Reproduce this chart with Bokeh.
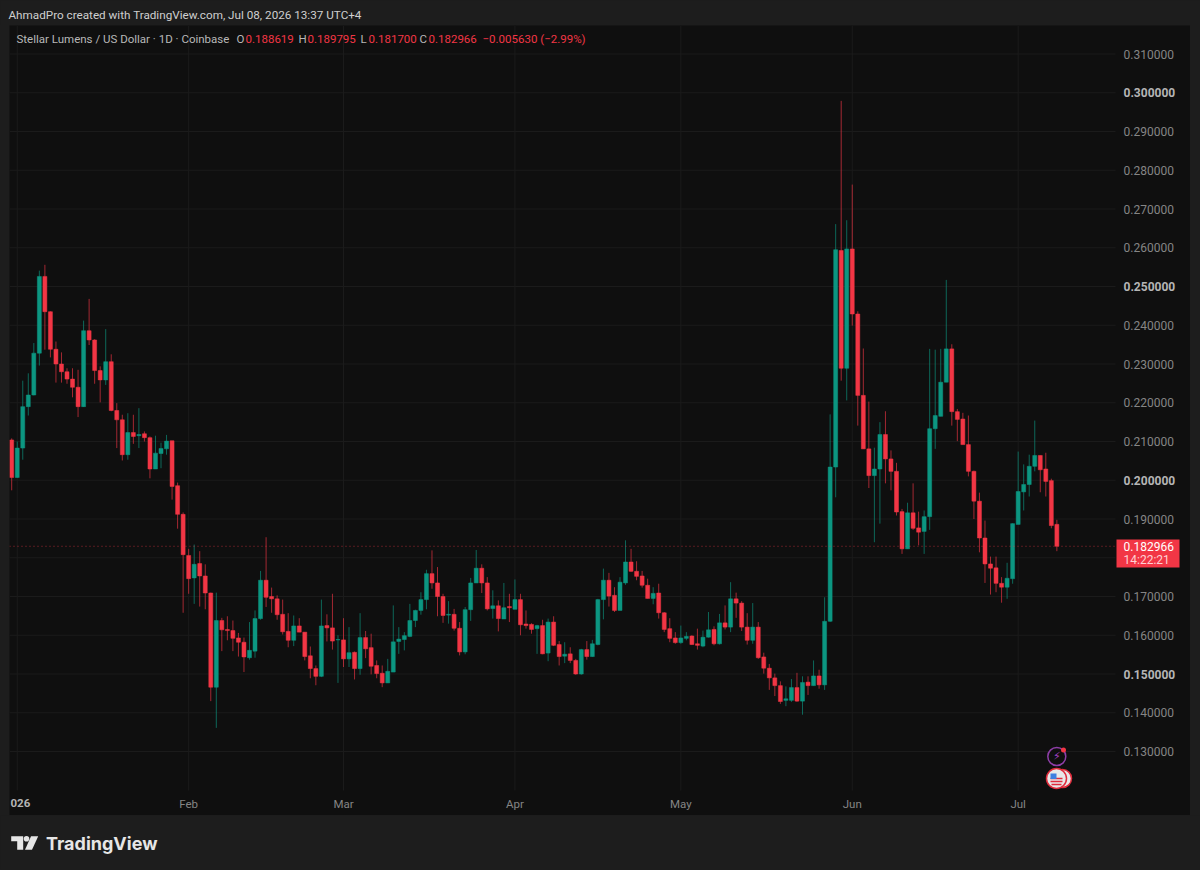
from bokeh.plotting import figure
from bokeh.layouts import column
from bokeh.models import Range1d, FixedTicker, NumeralTickFormatter, Label, ColumnDataSource
from bokeh.embed import file_html
from bokeh.resources import INLINE

opens = [0.2104,0.2007,0.2083,0.2190,0.2220,0.2328,0.2526,0.2435,0.2338,0.2300,
0.2280,0.2261,0.2240,0.2190,0.2386,0.2362,0.2283,0.2259,0.2306,0.2180,
0.2156,0.2066,0.2123,0.2115,0.2120,0.2110,0.2029,0.2069,0.2081,0.2102,
0.1986,0.1912,0.1806,0.1748,0.1785,0.1753,0.1709,0.1466,0.1638,0.1615,
0.1612,0.1593,0.1582,0.1542,0.1559,0.1643,0.1742,0.1700,0.1694,0.1654,
0.1610,0.1587,0.1624,0.1608,0.1547,0.1514,0.1494,0.1625,0.1619,0.1588,
0.1588,0.1539,0.1556,0.1514,0.1594,0.1568,0.1522,0.1502,0.1477,0.1505,
0.1584,0.1589,0.1597,0.1638,0.1664,0.1692,0.1759,0.1735,0.1700,0.1652,
0.1654,0.1618,0.1557,0.1666,0.1735,0.1773,0.1735,0.1669,0.1676,0.1642,
0.1674,0.1667,0.1692,0.1629,0.1628,0.1617,0.1625,0.1554,0.1634,0.1576,
0.1546,0.1552,0.1535,0.1500,0.1563,0.1545,0.1576,0.1692,0.1742,0.1703,
0.1664,0.1735,0.1789,0.1765,0.1753,0.1729,0.1695,0.1709,0.1658,0.1617,
0.1593,0.1581,0.1592,0.1598,0.1578,0.1572,0.1595,0.1615,0.1578,0.1632,
0.1621,0.1694,0.1683,0.1621,0.1587,0.1621,0.1544,0.1515,0.1490,0.1470,
0.1432,0.1432,0.1465,0.1430,0.1479,0.1470,0.1495,0.1472,0.1636,0.2034,
0.2593,0.2289,0.2597,0.2429,0.2219,0.2081,0.2012,0.2029,0.2118,0.2055,
0.2023,0.1919,0.1823,0.1916,0.1877,0.1868,0.1906,0.2133,0.2165,0.2253,
0.2339,0.2177,0.2158,0.2092,0.2023,0.1946,0.1851,0.1784,0.1774,0.1734,
0.1724,0.1746,0.1886,0.1970,0.1989,0.2036,0.2064,0.2029,0.1999,0.188619]

closes = [0.2007,0.2083,0.2190,0.2220,0.2328,0.2526,0.2435,0.2338,0.2300,0.2280,
0.2261,0.2240,0.2190,0.2386,0.2362,0.2283,0.2259,0.2306,0.2180,0.2156,
0.2066,0.2123,0.2113,0.2118,0.2110,0.2029,0.2070,0.2082,0.2101,0.1984,
0.1912,0.1808,0.1746,0.1783,0.1753,0.1709,0.1466,0.1638,0.1614,0.1612,
0.1592,0.1582,0.1544,0.1561,0.1643,0.1742,0.1698,0.1694,0.1653,0.1609,
0.1587,0.1624,0.1608,0.1545,0.1514,0.1494,0.1624,0.1619,0.1585,0.1589,
0.1539,0.1555,0.1514,0.1594,0.1565,0.1520,0.1501,0.1477,0.1507,0.1583,
0.1590,0.1599,0.1638,0.1664,0.1692,0.1759,0.1735,0.1700,0.1651,0.1654,
0.1618,0.1557,0.1666,0.1735,0.1773,0.1735,0.1668,0.1676,0.1643,0.1671,
0.1671,0.1692,0.1627,0.1625,0.1615,0.1625,0.1552,0.1634,0.1574,0.1545,
0.1551,0.1535,0.1500,0.1563,0.1545,0.1578,0.1692,0.1742,0.1701,0.1664,
0.1737,0.1789,0.1765,0.1752,0.1729,0.1695,0.1708,0.1658,0.1615,0.1592,
0.1581,0.1593,0.1597,0.1576,0.1574,0.1595,0.1614,0.1578,0.1632,0.1621,
0.1694,0.1683,0.1621,0.1587,0.1621,0.1542,0.1515,0.1490,0.1470,0.1429,
0.1436,0.1465,0.1430,0.1478,0.1470,0.1495,0.1472,0.1636,0.2034,0.2595,
0.2289,0.2597,0.2429,0.2219,0.2081,0.2012,0.2029,0.2118,0.2055,0.2023,
0.1918,0.1823,0.1916,0.1876,0.1866,0.1906,0.2133,0.2167,0.2253,0.2339,
0.2177,0.2157,0.2092,0.2023,0.1946,0.1851,0.1784,0.1773,0.1734,0.1724,
0.1747,0.1888,0.1971,0.1989,0.2036,0.2064,0.2027,0.1997,0.1883,0.182966]

highs = [0.2108,0.2100,0.2257,0.2276,0.2354,0.2541,0.2556,0.2436,0.2358,0.2330,
0.2289,0.2289,0.2285,0.2412,0.2468,0.2364,0.2294,0.2390,0.2325,0.2199,
0.2169,0.2173,0.2169,0.2186,0.2126,0.2113,0.2115,0.2097,0.2117,0.2102,
0.1994,0.1917,0.1823,0.1834,0.1817,0.1783,0.1710,0.1710,0.1645,0.1649,
0.1638,0.1606,0.1594,0.1634,0.1664,0.1766,0.1853,0.1723,0.1703,0.1692,
0.1657,0.1651,0.1644,0.1608,0.1571,0.1522,0.1692,0.1654,0.1707,0.1600,
0.1644,0.1621,0.1558,0.1657,0.1611,0.1604,0.1535,0.1522,0.1539,0.1677,
0.1621,0.1608,0.1681,0.1666,0.1711,0.1769,0.1819,0.1776,0.1707,0.1688,
0.1668,0.1634,0.1673,0.1748,0.1820,0.1783,0.1750,0.1716,0.1690,0.1735,
0.1707,0.1744,0.1707,0.1664,0.1631,0.1627,0.1640,0.1643,0.1649,0.1585,
0.1582,0.1569,0.1539,0.1565,0.1585,0.1588,0.1694,0.1772,0.1761,0.1724,
0.1750,0.1845,0.1823,0.1791,0.1766,0.1746,0.1724,0.1733,0.1660,0.1644,
0.1608,0.1625,0.1608,0.1600,0.1617,0.1612,0.1660,0.1623,0.1655,0.1677,
0.1737,0.1710,0.1688,0.1657,0.1683,0.1634,0.1555,0.1526,0.1501,0.1481,
0.1468,0.1487,0.1503,0.1494,0.1494,0.1535,0.1511,0.1698,0.2170,0.2661,
0.2979,0.2671,0.2763,0.2436,0.2340,0.2203,0.2084,0.2150,0.2178,0.2077,
0.2045,0.1926,0.1942,0.1992,0.1919,0.1922,0.2339,0.2337,0.2339,0.2517,
0.2351,0.2184,0.2174,0.2167,0.2025,0.1968,0.1896,0.1803,0.1803,0.1750,
0.1787,0.1889,0.2074,0.2041,0.2066,0.2154,0.2064,0.2071,0.2004,0.189795]

lows = [0.1974,0.2006,0.2053,0.2167,0.2219,0.2296,0.2337,0.2317,0.2252,0.2252,
0.2249,0.2214,0.2163,0.2189,0.2349,0.2249,0.2201,0.2246,0.2178,0.2083,
0.2051,0.2053,0.2094,0.2083,0.2100,0.2005,0.2029,0.2031,0.2066,0.1950,
0.1875,0.1658,0.1707,0.1681,0.1674,0.1667,0.1430,0.1361,0.1559,0.1587,
0.1559,0.1545,0.1505,0.1537,0.1542,0.1640,0.1673,0.1658,0.1640,0.1602,
0.1569,0.1572,0.1608,0.1535,0.1489,0.1471,0.1492,0.1584,0.1563,0.1477,
0.1518,0.1518,0.1486,0.1498,0.1541,0.1499,0.1489,0.1466,0.1477,0.1505,
0.1552,0.1561,0.1595,0.1621,0.1653,0.1667,0.1720,0.1649,0.1632,0.1630,
0.1612,0.1548,0.1551,0.1637,0.1735,0.1709,0.1664,0.1643,0.1610,0.1642,
0.1634,0.1667,0.1600,0.1617,0.1604,0.1552,0.1551,0.1533,0.1572,0.1522,
0.1528,0.1528,0.1498,0.1498,0.1537,0.1544,0.1574,0.1641,0.1674,0.1660,
0.1664,0.1730,0.1763,0.1742,0.1723,0.1695,0.1680,0.1643,0.1608,0.1582,
0.1578,0.1578,0.1587,0.1575,0.1563,0.1569,0.1594,0.1574,0.1576,0.1615,
0.1608,0.1645,0.1611,0.1576,0.1578,0.1539,0.1501,0.1459,0.1443,0.1423,
0.1417,0.1428,0.1428,0.1395,0.1446,0.1470,0.1462,0.1459,0.1634,0.1956,
0.2257,0.2206,0.2399,0.2141,0.2081,0.1980,0.1840,0.1888,0.1992,0.1974,
0.1909,0.1810,0.1823,0.1872,0.1832,0.1810,0.1872,0.2081,0.2165,0.2253,
0.2141,0.2101,0.2092,0.2010,0.1900,0.1814,0.1735,0.1705,0.1711,0.1684,
0.1694,0.1733,0.1886,0.1922,0.1958,0.2023,0.1969,0.1958,0.1876,0.181700]

dates_idx = list(range(len(opens)))
month_labels = ["Feb", "Mar", "Apr", "May", "Jun", "Jul"]
month_idx = [32, 60, 91, 121, 152, 182]
year_idx = 1
year_label = "026"
price_ticks = [0.13,0.14,0.15,0.16,0.17,0.18,0.19,0.20,0.21,0.22,0.23,0.24,0.25,0.26,0.27,0.28,0.29,0.30,0.31]
bold_ticks = [0.15,0.20,0.25,0.30]
last_price = 0.182966

BG = "#1d1d1d"; PANE = "#0f0f0f"; GRID = "#1b1b1b"; AX = "#858585"
RED = "#f23645"; GREEN = "#0c9681"
FONT = "Roboto"

def X(px): return (px - 11.2) / 5.53
def Y(py): return 0.13 + (751 - py) / 3875.0

# top strip
head = figure(width=1200, height=25, x_range=Range1d(0, 1200), y_range=Range1d(25, 0),
              output_backend="svg", toolbar_location=None, min_border=0, x_axis_type=None, y_axis_type=None,
              background_fill_color=BG, border_fill_color=BG, outline_line_color=None)
head.grid.visible = False
head.add_layout(Label(x=8, y=14, text="AhmadPro created with TradingView.com, Jul 08, 2026 13:37 UTC+4",
                      text_color="#cfcfcf", text_font=FONT, text_font_size="11.7px", text_baseline="middle"))

# chart: the frame is the whole pane, both axes sit at fixed places inside it
p = figure(width=1181, height=790, margin=(0, 0, 0, 9),
           x_range=Range1d(X(9), X(1190)), y_range=Range1d(Y(815), Y(25)),
           y_axis_location="right", output_backend="svg", toolbar_location=None,
           background_fill_color=PANE, border_fill_color=PANE, outline_line_color=None,
           min_border_left=0, min_border_top=0, min_border_right=0, min_border_bottom=0)
p.grid.visible = False

for ax in (p.xaxis[0], p.yaxis[0]):
    ax.axis_line_color = None
    ax.major_tick_line_color = None
    ax.minor_tick_line_color = None
    ax.major_tick_out = 0
    ax.major_tick_in = 0
    ax.minor_tick_out = 0
    ax.major_label_text_color = AX
    ax.major_label_text_font = FONT
p.yaxis[0].fixed_location = X(1115)
p.xaxis[0].fixed_location = Y(790)
p.yaxis[0].major_label_text_font_size = "12px"
p.xaxis[0].major_label_text_font_size = "11.5px"
p.yaxis[0].major_label_standoff = 8
p.xaxis[0].major_label_standoff = 6
p.yaxis[0].ticker = FixedTicker(ticks=[t for t in price_ticks if t not in bold_ticks and t != 0.18])
p.yaxis[0].formatter = NumeralTickFormatter(format="0.000000")
p.xaxis[0].ticker = FixedTicker(ticks=month_idx)
p.xaxis[0].major_label_overrides = dict(zip(month_idx, month_labels))

# grid lines that stop at the edge of the price scale and of the time scale
n_h = len(price_ticks)
p.segment([X(9)] * n_h, price_ticks, [X(1115)] * n_h, price_ticks, line_color=GRID, line_width=1, level="underlay")
v_lines = [year_idx] + month_idx
n_v = len(v_lines)
p.segment(v_lines, [Y(25)] * n_v, v_lines, [Y(790)] * n_v, line_color=GRID, line_width=1, level="underlay")

colors = [GREEN if c >= o else RED for o, c in zip(opens, closes)]
src = ColumnDataSource(dict(x=dates_idx, o=opens, c=closes, h=highs, l=lows, color=colors))
p.segment("x", "h", "x", "l", source=src, line_color="color", line_width=1, line_alpha=0.65)
p.vbar("x", top="o", bottom="c", width=0.72, source=src, fill_color="color", line_color="color", line_width=0.5)

p.segment([X(9)], [last_price], [X(1116)], [last_price], line_color=RED, line_alpha=0.65, line_dash="1 3", line_width=1)

# legend line
legend_parts = [(16, "Stellar Lumens / US Dollar · 1D · Coinbase", "#b8b8b8"),
                (236, "O", "#b8b8b8"), (245, "0.188619", RED),
                (298, "H", "#b8b8b8"), (307, "0.189795", RED),
                (360, "L", "#b8b8b8"), (368, "0.181700", RED),
                (419, "C", "#b8b8b8"), (428, "0.182966", RED),
                (482, "−0.005630 (−2.99%)", RED)]
for px, txt, col in legend_parts:
    p.add_layout(Label(x=X(px), y=Y(38.5), text=txt, text_color=col, text_font=FONT,
                       text_font_size="11.5px", text_baseline="middle"))

# bold price ticks
for t in bold_ticks:
    p.add_layout(Label(x=X(1123), y=t, text=f"{t:.6f}", text_color="#b5b5b5", text_font=FONT,
                       text_font_style="bold", text_font_size="12px", text_baseline="middle"))
# clipped year
p.add_layout(Label(x=X(10), y=Y(802), text=year_label, text_color="#b5b5b5", text_font=FONT,
                   text_font_style="bold", text_font_size="11.5px", text_baseline="middle"))

# last price tag
p.quad(left=[X(1116)], right=[X(1179)], top=[Y(539)], bottom=[Y(567)], fill_color=RED, line_color=None)
p.add_layout(Label(x=X(1123), y=Y(546), text="0.182966", text_color="#ffffff",
                   text_font=FONT, text_font_size="12px", text_baseline="middle"))
p.add_layout(Label(x=X(1123), y=Y(559), text="14:22:21", text_color="#ffd0d4",
                   text_font=FONT, text_font_size="12px", text_baseline="middle"))

# event icons
p.scatter([X(1056.3)], [Y(756)], size=18, marker="circle", fill_color=PANE, line_color="#8e3ea8", line_width=1.5)
p.scatter([X(1063)], [Y(749.5)], size=5, marker="circle", fill_color=RED, line_color=None)
p.add_layout(Label(x=X(1056.3), y=Y(756), text="⚡", text_color="#a33fc4", text_font="DejaVu Sans",
                   text_font_size="11px", text_align="center", text_baseline="middle"))
p.scatter([X(1062)], [Y(778)], size=18, marker="circle", fill_color="#e8e8e8", line_color="#e02c3c", line_width=1.5)
p.scatter([X(1056)], [Y(778)], size=20, marker="circle", fill_color="#e8e8e8", line_color="#e02c3c", line_width=1.5)
p.segment([X(1050), X(1050), X(1051)], [Y(778), Y(781), Y(784)], [X(1062), X(1062), X(1061)], [Y(778), Y(781), Y(784)],
          line_color="#e02c3c", line_width=1.5)
p.quad(left=[X(1050)], right=[X(1056)], top=[Y(773)], bottom=[Y(778.5)], fill_color="#3f7fe0", line_color=None)

# footer
foot = figure(width=1200, height=54, x_range=Range1d(0, 1200), y_range=Range1d(869, 815),
              output_backend="svg", toolbar_location=None, min_border=0, x_axis_type=None, y_axis_type=None,
              background_fill_color=BG, border_fill_color=BG, outline_line_color=None)
foot.grid.visible = False
LOGO = "#e6e6e6"
foot.patch([10.7, 22.7, 22.7, 16.7, 16.7, 10.7], [835.7, 835.7, 849.3, 849.3, 840.7, 840.7], color=LOGO, line_color=None)
foot.scatter([26], [838.3], size=5.6, marker="circle", color=LOGO, line_color=None)
foot.patch([30.5, 37.7, 31.5, 24.5], [835.7, 835.7, 849.3, 849.3], color=LOGO, line_color=None)
foot.add_layout(Label(x=45.5, y=843, text="TradingView", text_color=LOGO, text_font="Inter",
                      text_font_size="18px", text_font_style="bold", text_baseline="middle"))

page = column(head, p, foot, spacing=0)
html = file_html(page, INLINE)
html = html.replace("<head>", "<head><style>html,body{background:#1d1d1d;}</style>", 1)
open("out.html", "w").write(html)
